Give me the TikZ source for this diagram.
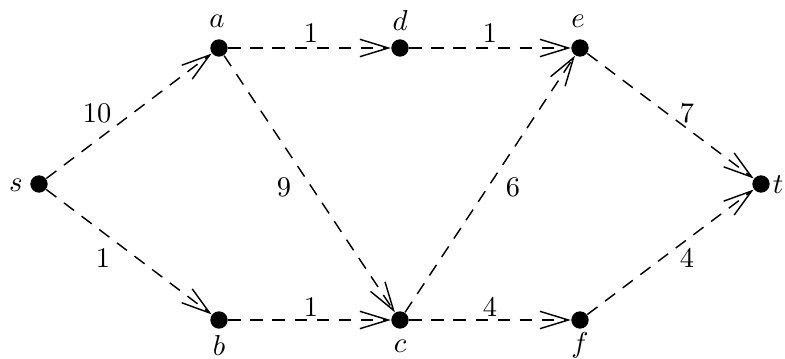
\documentclass[tikz,border=0pt]{standalone}
\usetikzlibrary{arrows.meta}
\begin{document}
\begin{tikzpicture}[x=0.38pt,y=-0.38pt,
  every node/.style={font=\fontsize{10.8}{13}\selectfont},
  vtx/.style={circle,fill=black,inner sep=0pt,minimum size=6.6pt},
  vlab/.style={inner sep=0.5pt},
  edg/.style={line width=0.55pt,dash pattern=on 4.8pt off 3.6pt,
    -{Straight Barb[length=10.8pt,width=6.6pt,line width=0.55pt]}},
  wlab/.style={inner sep=1pt}]
\useasboundingbox (0,0) rectangle (785,359);
\node[vtx] (s) at (39,184) {};
\node[vtx] (a) at (219,48) {};
\node[vtx] (d) at (400,48) {};
\node[vtx] (e) at (580,48) {};
\node[vtx] (t) at (761,184) {};
\node[vtx] (b) at (219,320) {};
\node[vtx] (c) at (400,320) {};
\node[vtx] (f) at (580,320) {};
\node[vlab] (ls) at (16,185) {$s$};
\node[vlab] (lt) at (778,185) {$t$};
\node[vlab] (la) at (217,21) {$a$};
\node[vlab] (ld) at (400,21) {$d$};
\node[vlab] (le) at (578,21) {$e$};
\node[vlab] (lb) at (219,345) {$b$};
\node[vlab] (lc) at (400,346) {$c$};
\node[vlab] (lf) at (580,345) {$f$};
\draw[edg] (s) -- (a);
\draw[edg] (s) -- (b);
\draw[edg] (a) -- (d);
\draw[edg] (d) -- (e);
\draw[edg] (a) -- (c);
\draw[edg] (c) -- (e);
\draw[edg] (e) -- (t);
\draw[edg] (f) -- (t);
\draw[edg] (b) -- (c);
\draw[edg] (c) -- (f);
\node[wlab] (w1) at (97,113) {10};
\node[wlab] (w2) at (103,258) {1};
\node[wlab] (w3) at (311,33) {1};
\node[wlab] (w4) at (490,33) {1};
\node[wlab] (w5) at (284,187) {9};
\node[wlab] (w6) at (513,187) {6};
\node[wlab] (w7) at (687,113) {7};
\node[wlab] (w8) at (687,258) {4};
\node[wlab] (w9) at (311,307) {1};
\node[wlab] (w10) at (490,307) {4};
\end{tikzpicture}
\end{document}
